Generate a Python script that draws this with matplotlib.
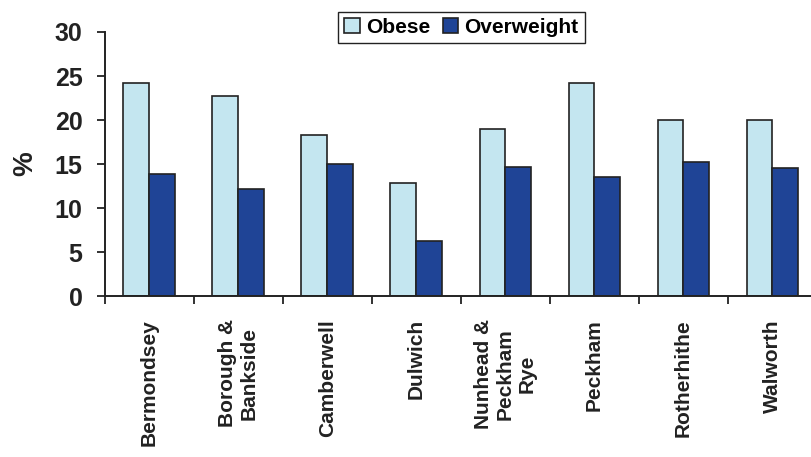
import numpy as np
import matplotlib
matplotlib.use("Agg")
import matplotlib.pyplot as plt

# --- data ---
areas = ["Bermondsey", "Borough &\nBankside", "Camberwell", "Dulwich",
         "Nunhead &\nPeckham\nRye", "Peckham", "Rotherhithe", "Walworth"]
obese = [24.2, 22.7, 18.3, 12.9, 19.0, 24.2, 20.0, 20.0]
overweight = [13.9, 12.2, 15.0, 6.3, 14.7, 13.5, 15.2, 14.5]

# --- style ---
plt.rcParams["font.family"] = ["Liberation Sans", "DejaVu Sans"]
plt.rcParams["font.weight"] = "bold"
LIGHT = "#c4e6f0"
DARK = "#1f4496"
INK = "#222222"

fig = plt.figure(figsize=(8.12, 4.57), dpi=100)
ax = fig.add_axes([0.129, 0.352, 0.877, 0.578])

x = np.arange(len(areas))
w = 0.29
ax.bar(x - w / 2, obese, w, color=LIGHT, edgecolor=INK, linewidth=1.2, label="Obese")
ax.bar(x + w / 2, overweight, w, color=DARK, edgecolor=INK, linewidth=1.2, label="Overweight")

ax.set_xlim(-0.5, len(areas) - 0.5)
ax.set_ylim(0, 30)
ax.set_yticks(range(0, 31, 5))
ax.tick_params(axis="y", labelsize=18, length=6, width=1.3, pad=10, colors=INK)

# category ticks sit on the group boundaries, labels at the centres
ax.set_xticks(np.arange(len(areas) + 1) - 0.5)
ax.set_xticklabels([])
ax.tick_params(axis="x", length=6, width=1.3, colors=INK)
for xi, name in zip(x, areas):
    ax.text(xi, -2.6, name, rotation=90, ha="center", va="top",
            multialignment="center", fontsize=15, fontweight="bold",
            color=INK, linespacing=1.2)

for s in ("top", "right"):
    ax.spines[s].set_visible(False)
for s in ("left", "bottom"):
    ax.spines[s].set_linewidth(1.4)
    ax.spines[s].set_color(INK)

ax.set_ylabel("%", fontsize=20, fontweight="bold", labelpad=12, color=INK)

fig.legend(loc="center", bbox_to_anchor=(0.568, 0.94), ncol=2,
           frameon=True, fancybox=False, edgecolor=INK, framealpha=1,
           handlelength=0.75, handleheight=0.75, handletextpad=0.3,
           columnspacing=0.6, borderpad=0.3, prop={"weight": "bold", "size": 15})

fig.savefig("out.png", dpi=100)
